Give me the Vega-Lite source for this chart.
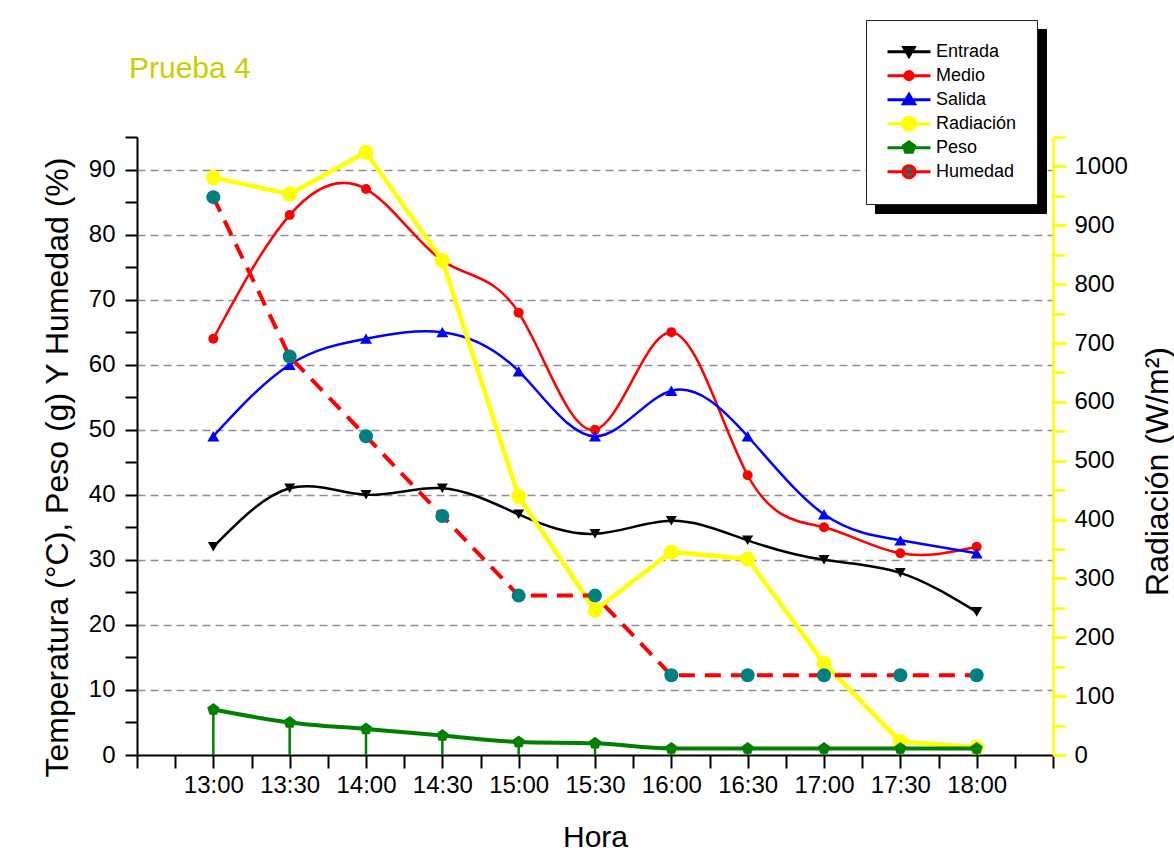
{
  "$schema": "https://vega.github.io/schema/vega-lite/v6.json",
  "width": 916,
  "height": 618,
  "autosize": {"type": "none"},
  "padding": {"left": 137, "top": 137, "right": 121, "bottom": 104},
  "background": "white",
  "title": {"text": "Prueba 4", "anchor": "start", "frame": "group", "orient": "top", "fontSize": 30, "fontWeight": "normal", "color": "#CCCC00", "font": "Liberation Sans", "baseline": "alphabetic", "offset": 0, "dx": -8, "dy": 88},
  "data": {
    "format": {"parse": {"hora": "date:'%H:%M'"}},
    "values": [
      {"hora": "13:00", "serie": "Entrada", "valor": 32},
      {"hora": "13:30", "serie": "Entrada", "valor": 41},
      {"hora": "14:00", "serie": "Entrada", "valor": 40},
      {"hora": "14:30", "serie": "Entrada", "valor": 41},
      {"hora": "15:00", "serie": "Entrada", "valor": 37},
      {"hora": "15:30", "serie": "Entrada", "valor": 34},
      {"hora": "16:00", "serie": "Entrada", "valor": 36},
      {"hora": "16:30", "serie": "Entrada", "valor": 33},
      {"hora": "17:00", "serie": "Entrada", "valor": 30},
      {"hora": "17:30", "serie": "Entrada", "valor": 28},
      {"hora": "18:00", "serie": "Entrada", "valor": 22},
      {"hora": "13:00", "serie": "Medio", "valor": 64},
      {"hora": "13:30", "serie": "Medio", "valor": 83},
      {"hora": "14:00", "serie": "Medio", "valor": 87},
      {"hora": "14:30", "serie": "Medio", "valor": 76},
      {"hora": "15:00", "serie": "Medio", "valor": 68},
      {"hora": "15:30", "serie": "Medio", "valor": 50},
      {"hora": "16:00", "serie": "Medio", "valor": 65},
      {"hora": "16:30", "serie": "Medio", "valor": 43},
      {"hora": "17:00", "serie": "Medio", "valor": 35},
      {"hora": "17:30", "serie": "Medio", "valor": 31},
      {"hora": "18:00", "serie": "Medio", "valor": 32},
      {"hora": "13:00", "serie": "Salida", "valor": 49},
      {"hora": "13:30", "serie": "Salida", "valor": 60},
      {"hora": "14:00", "serie": "Salida", "valor": 64},
      {"hora": "14:30", "serie": "Salida", "valor": 65},
      {"hora": "15:00", "serie": "Salida", "valor": 59},
      {"hora": "15:30", "serie": "Salida", "valor": 49},
      {"hora": "16:00", "serie": "Salida", "valor": 56},
      {"hora": "16:30", "serie": "Salida", "valor": 49},
      {"hora": "17:00", "serie": "Salida", "valor": 37},
      {"hora": "17:30", "serie": "Salida", "valor": 33},
      {"hora": "18:00", "serie": "Salida", "valor": 31},
      {"hora": "13:00", "serie": "Radiación", "valor": 981},
      {"hora": "13:30", "serie": "Radiación", "valor": 953},
      {"hora": "14:00", "serie": "Radiación", "valor": 1024},
      {"hora": "14:30", "serie": "Radiación", "valor": 840},
      {"hora": "15:00", "serie": "Radiación", "valor": 439},
      {"hora": "15:30", "serie": "Radiación", "valor": 246},
      {"hora": "16:00", "serie": "Radiación", "valor": 345},
      {"hora": "16:30", "serie": "Radiación", "valor": 333},
      {"hora": "17:00", "serie": "Radiación", "valor": 156},
      {"hora": "17:30", "serie": "Radiación", "valor": 23},
      {"hora": "18:00", "serie": "Radiación", "valor": 13},
      {"hora": "13:00", "serie": "Peso", "valor": 7},
      {"hora": "13:30", "serie": "Peso", "valor": 5},
      {"hora": "14:00", "serie": "Peso", "valor": 4},
      {"hora": "14:30", "serie": "Peso", "valor": 3},
      {"hora": "15:00", "serie": "Peso", "valor": 2},
      {"hora": "15:30", "serie": "Peso", "valor": 1.8},
      {"hora": "16:00", "serie": "Peso", "valor": 1},
      {"hora": "16:30", "serie": "Peso", "valor": 1},
      {"hora": "17:00", "serie": "Peso", "valor": 1},
      {"hora": "17:30", "serie": "Peso", "valor": 1},
      {"hora": "18:00", "serie": "Peso", "valor": 1},
      {"hora": "13:00", "serie": "Humedad", "valor": 85.75},
      {"hora": "13:30", "serie": "Humedad", "valor": 61.25},
      {"hora": "14:00", "serie": "Humedad", "valor": 49},
      {"hora": "14:30", "serie": "Humedad", "valor": 36.75},
      {"hora": "15:00", "serie": "Humedad", "valor": 24.5},
      {"hora": "15:30", "serie": "Humedad", "valor": 24.5},
      {"hora": "16:00", "serie": "Humedad", "valor": 12.25},
      {"hora": "16:30", "serie": "Humedad", "valor": 12.25},
      {"hora": "17:00", "serie": "Humedad", "valor": 12.25},
      {"hora": "17:30", "serie": "Humedad", "valor": 12.25},
      {"hora": "18:00", "serie": "Humedad", "valor": 12.25}
    ]
  },
  "encoding": {
    "x": {
      "field": "hora",
      "type": "temporal",
      "scale": {"domain": [{"year": 1900, "month": 1, "date": 1, "hours": 12, "minutes": 30}, {"year": 1900, "month": 1, "date": 1, "hours": 18, "minutes": 30}], "nice": false},
      "axis": {
        "orient": "bottom",
        "values": [
          {"year": 1900, "month": 1, "date": 1, "hours": 12, "minutes": 30},
          {"year": 1900, "month": 1, "date": 1, "hours": 12, "minutes": 45},
          {"year": 1900, "month": 1, "date": 1, "hours": 13, "minutes": 0},
          {"year": 1900, "month": 1, "date": 1, "hours": 13, "minutes": 15},
          {"year": 1900, "month": 1, "date": 1, "hours": 13, "minutes": 30},
          {"year": 1900, "month": 1, "date": 1, "hours": 13, "minutes": 45},
          {"year": 1900, "month": 1, "date": 1, "hours": 14, "minutes": 0},
          {"year": 1900, "month": 1, "date": 1, "hours": 14, "minutes": 15},
          {"year": 1900, "month": 1, "date": 1, "hours": 14, "minutes": 30},
          {"year": 1900, "month": 1, "date": 1, "hours": 14, "minutes": 45},
          {"year": 1900, "month": 1, "date": 1, "hours": 15, "minutes": 0},
          {"year": 1900, "month": 1, "date": 1, "hours": 15, "minutes": 15},
          {"year": 1900, "month": 1, "date": 1, "hours": 15, "minutes": 30},
          {"year": 1900, "month": 1, "date": 1, "hours": 15, "minutes": 45},
          {"year": 1900, "month": 1, "date": 1, "hours": 16, "minutes": 0},
          {"year": 1900, "month": 1, "date": 1, "hours": 16, "minutes": 15},
          {"year": 1900, "month": 1, "date": 1, "hours": 16, "minutes": 30},
          {"year": 1900, "month": 1, "date": 1, "hours": 16, "minutes": 45},
          {"year": 1900, "month": 1, "date": 1, "hours": 17, "minutes": 0},
          {"year": 1900, "month": 1, "date": 1, "hours": 17, "minutes": 15},
          {"year": 1900, "month": 1, "date": 1, "hours": 17, "minutes": 30},
          {"year": 1900, "month": 1, "date": 1, "hours": 17, "minutes": 45},
          {"year": 1900, "month": 1, "date": 1, "hours": 18, "minutes": 0},
          {"year": 1900, "month": 1, "date": 1, "hours": 18, "minutes": 15},
          {"year": 1900, "month": 1, "date": 1, "hours": 18, "minutes": 30}
        ],
        "grid": false,
        "domainColor": "black",
        "domainWidth": 2,
        "tickColor": "black",
        "tickWidth": 2,
        "tickSize": 13,
        "labelFontSize": 24,
        "labelFont": "Liberation Sans",
        "labelColor": "black",
        "labelPadding": 5,
        "labelFlush": false,
        "labelOverlap": false,
        "labelExpr": "(minutes(datum.value) % 30 === 0 && hours(datum.value) * 60 + minutes(datum.value) >= 780 && hours(datum.value) * 60 + minutes(datum.value) <= 1080) ? timeFormat(datum.value, '%H:%M') : ''",
        "title": "Hora",
        "titleFont": "Liberation Sans",
        "titleFontSize": 30,
        "titleFontWeight": "normal",
        "titleColor": "black",
        "titleX": 458,
        "titleY": 91,
        "titleAlign": "center",
        "titleBaseline": "alphabetic",
        "encode": {"ticks": {"update": {"y2": {"signal": "minutes(datum.value) % 30 === 0 ? 13 : 7"}}}}
      }
    }
  },
  "layer": [
    {
      "encoding": {
        "y": {
          "field": "valor",
          "type": "quantitative",
          "scale": {"domain": [0, 95], "nice": false, "zero": true},
          "axis": {
            "orient": "left",
            "values": [0, 5, 10, 15, 20, 25, 30, 35, 40, 45, 50, 55, 60, 65, 70, 75, 80, 85, 90, 95],
            "grid": true,
            "gridDash": [8, 5],
            "gridColor": "#909090",
            "gridWidth": 1.5,
            "gridOpacity": {"condition": {"test": "datum.value % 10 !== 0 || datum.value === 0", "value": 0}, "value": 1},
            "domainColor": "black",
            "domainWidth": 2,
            "tickColor": "black",
            "tickWidth": 2,
            "tickSize": 12,
            "labelFontSize": 24,
            "labelFont": "Liberation Sans",
            "labelColor": "black",
            "labelPadding": 10,
            "labelOverlap": false,
            "labelExpr": "datum.value % 10 === 0 ? datum.value : ''",
            "title": "Temperatura (°C), Peso (g) Y Humedad (%)",
            "titleFont": "Liberation Sans",
            "titleFontSize": 32,
            "titleFontWeight": "normal",
            "titleColor": "black",
            "titleAngle": 270,
            "titleX": -70,
            "titleY": 330,
            "titleAlign": "center",
            "titleBaseline": "alphabetic",
            "encode": {"ticks": {"update": {"x2": {"signal": "datum.value % 10 === 0 ? -12 : -6"}}}}
          }
        }
      },
      "layer": [
        {
          "transform": [{"filter": {"field": "serie", "oneOf": ["Entrada", "Medio", "Salida"]}}],
          "mark": {"type": "line", "interpolate": "natural", "strokeWidth": 2.5},
          "encoding": {
            "stroke": {
              "field": "serie",
              "type": "nominal",
              "scale": {"domain": ["Humedad", "Peso", "Radiación", "Salida", "Medio", "Entrada"], "range": ["#FF0000", "#008000", "#FFFF00", "#0000FF", "#FF0000", "#000000"]},
              "legend": {
                "orient": "none",
                "legendX": 738,
                "legendY": -108,
                "title": null,
                "padding": 20,
                "fillColor": "black",
                "strokeColor": "black",
                "symbolSize": 1849,
                "symbolStrokeWidth": 3,
                "clipHeight": 23.3,
                "rowPadding": 0,
                "labelFont": "Liberation Sans",
                "labelFontSize": 18,
                "labelColor": "black",
                "labelOffset": 4,
                "labelLimit": 300
              }
            }
          }
        },
        {
          "transform": [{"filter": {"field": "serie", "equal": "Entrada"}}],
          "mark": {"type": "point", "filled": true, "opacity": 0},
          "encoding": {
            "fill": {
              "field": "serie",
              "type": "nominal",
              "scale": {"domain": ["Entrada", "Medio", "Salida", "Radiación", "Peso", "Humedad"], "range": ["#000000", "#FF0000", "#0000FF", "#FFFF00", "#008000", "#008080"]},
              "legend": {
                "orient": "none",
                "legendX": 729,
                "legendY": -117,
                "title": null,
                "padding": 20,
                "fillColor": "white",
                "strokeColor": "#222222",
                "symbolSize": 1849,
                "symbolStrokeWidth": 3,
                "symbolOpacity": 1,
                "symbolType": {"expr": "(datum && datum.value === 'Entrada') ? 'M-1,0L1,0M-0.24,-0.19L0.24,-0.19L0,0.22Z' : (datum && datum.value === 'Medio') ? 'M-1,0L1,0M0.19,0C0.19,0.105,0.105,0.19,0,0.19C-0.105,0.19,-0.19,0.105,-0.19,0C-0.19,-0.105,-0.105,-0.19,0,-0.19C0.105,-0.19,0.19,-0.105,0.19,0Z' : (datum && datum.value === 'Salida') ? 'M-1,0L1,0M-0.26,0.19L0.26,0.19L0,-0.24Z' : (datum && datum.value === 'Radiación') ? 'M-1,0L1,0M0.3,0C0.3,0.166,0.166,0.3,0,0.3C-0.166,0.3,-0.3,0.166,-0.3,0C-0.3,-0.166,-0.166,-0.3,0,-0.3C0.166,-0.3,0.3,-0.166,0.3,0Z' : (datum && datum.value === 'Peso') ? 'M-1,0L1,0M0,-0.27L0.257,-0.083L0.159,0.218L-0.159,0.218L-0.257,-0.083Z' : 'M-1,0L1,0M0.28,0C0.28,0.155,0.155,0.28,0,0.28C-0.155,0.28,-0.28,0.155,-0.28,0C-0.28,-0.155,-0.155,-0.28,0,-0.28C0.155,-0.28,0.28,-0.155,0.28,0Z'"},
                "symbolStrokeColor": {"expr": "(datum && datum.value === 'Entrada') ? 'black' : (datum && datum.value === 'Medio') ? 'red' : (datum && datum.value === 'Salida') ? 'blue' : (datum && datum.value === 'Radiación') ? '#FFFF00' : (datum && datum.value === 'Peso') ? '#008000' : 'red'"},
                "clipHeight": 23.3,
                "rowPadding": 0,
                "labelFont": "Liberation Sans",
                "labelFontSize": 18,
                "labelColor": "black",
                "labelOffset": 4,
                "labelLimit": 300
              }
            }
          }
        },
        {
          "transform": [{"filter": {"field": "serie", "equal": "Entrada"}}],
          "mark": {"type": "point", "filled": true, "opacity": 1, "shape": "triangle-down", "size": 121},
          "encoding": {"fill": {"field": "serie", "type": "nominal", "legend": null}}
        },
        {
          "transform": [{"filter": {"field": "serie", "equal": "Medio"}}],
          "mark": {"type": "point", "filled": true, "opacity": 1, "shape": "circle", "size": 100},
          "encoding": {"fill": {"field": "serie", "type": "nominal", "legend": null}}
        },
        {
          "transform": [{"filter": {"field": "serie", "equal": "Salida"}}],
          "mark": {"type": "point", "filled": true, "opacity": 1, "shape": "triangle-up", "size": 144},
          "encoding": {"fill": {"field": "serie", "type": "nominal", "legend": null}}
        }
      ]
    },
    {
      "transform": [{"filter": {"field": "serie", "equal": "Radiación"}}],
      "encoding": {
        "y": {
          "field": "valor",
          "type": "quantitative",
          "scale": {"domain": [0, 1050], "nice": false, "zero": true},
          "axis": {
            "orient": "right",
            "values": [0, 100, 200, 300, 400, 500, 600, 700, 800, 900, 1000],
            "format": "d",
            "grid": false,
            "domainColor": "#FFFF00",
            "domainWidth": 2.5,
            "tickColor": "#FFFF00",
            "tickWidth": 2.5,
            "tickSize": 13,
            "labelFontSize": 24,
            "labelFont": "Liberation Sans",
            "labelColor": "black",
            "labelPadding": 8,
            "labelOverlap": false,
            "title": "Radiación (W/m²)",
            "titleFont": "Liberation Sans",
            "titleFontSize": 32,
            "titleFontWeight": "normal",
            "titleColor": "black",
            "titleAngle": 270,
            "titleX": 114,
            "titleY": 334,
            "titleAlign": "center",
            "titleBaseline": "alphabetic"
          }
        }
      },
      "layer": [
        {
          "mark": {"type": "line", "interpolate": "linear", "strokeWidth": 4.5},
          "encoding": {"stroke": {"field": "serie", "type": "nominal", "legend": null}}
        },
        {
          "mark": {"type": "point", "filled": true, "opacity": 1, "shape": "circle", "size": 225},
          "encoding": {"fill": {"field": "serie", "type": "nominal", "legend": null}}
        }
      ]
    },
    {
      "encoding": {
        "y": {
          "field": "valor",
          "type": "quantitative",
          "scale": {"domain": [0, 95], "nice": false, "zero": true},
          "axis": null
        }
      },
      "layer": [
        {
          "transform": [{"filter": {"field": "serie", "equal": "Peso"}}],
          "mark": {"type": "rule", "color": "#008000", "strokeWidth": 2.5},
          "encoding": {"y2": {"datum": 0}}
        },
        {
          "transform": [{"filter": {"field": "serie", "equal": "Peso"}}],
          "mark": {"type": "line", "interpolate": "monotone", "strokeWidth": 4},
          "encoding": {"stroke": {"field": "serie", "type": "nominal", "legend": null}}
        },
        {
          "transform": [{"filter": {"field": "serie", "equal": "Peso"}}],
          "mark": {"type": "point", "filled": true, "opacity": 1, "shape": "M0,-1L0.951,-0.309L0.588,0.809L-0.588,0.809L-0.951,-0.309Z", "size": 165},
          "encoding": {"fill": {"field": "serie", "type": "nominal", "legend": null}}
        },
        {
          "transform": [{"filter": {"field": "serie", "equal": "Humedad"}}],
          "mark": {"type": "line", "interpolate": "linear", "strokeWidth": 4, "strokeDash": [16, 10]},
          "encoding": {"stroke": {"field": "serie", "type": "nominal", "legend": null}}
        },
        {
          "transform": [{"filter": {"field": "serie", "equal": "Humedad"}}],
          "mark": {"type": "point", "filled": true, "opacity": 1, "shape": "circle", "size": 196},
          "encoding": {"fill": {"field": "serie", "type": "nominal", "legend": null}}
        }
      ]
    },
    {
      "transform": [{"filter": {"field": "serie", "equal": "Radiación"}}],
      "mark": {"type": "point", "opacity": 0},
      "encoding": {
        "y": {
          "field": "valor",
          "type": "quantitative",
          "scale": {"domain": [0, 1050], "nice": false, "zero": true},
          "axis": {
            "orient": "right",
            "values": [0, 50, 100, 150, 200, 250, 300, 350, 400, 450, 500, 550, 600, 650, 700, 750, 800, 850, 900, 950, 1000, 1050],
            "grid": false,
            "domain": false,
            "labels": false,
            "title": null,
            "tickColor": "#FFFF00",
            "tickWidth": 2.5,
            "tickSize": 12,
            "encode": {"ticks": {"update": {"x2": {"signal": "datum.value % 100 === 0 ? -12 : -6"}}}}
          }
        }
      }
    }
  ],
  "resolve": {"scale": {"y": "independent"}},
  "config": {
    "font": "Liberation Sans",
    "view": {"stroke": null},
    "axis": {"titleFontWeight": "normal"}
  }
}
